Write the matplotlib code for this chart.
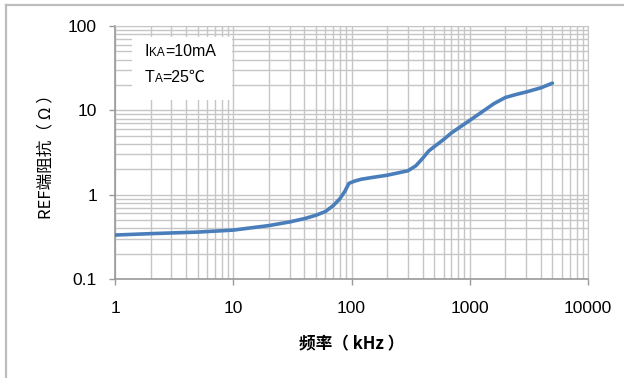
import matplotlib
matplotlib.use('Agg')
import matplotlib.pyplot as plt
from matplotlib.lines import Line2D
from matplotlib.patches import Rectangle
from matplotlib.offsetbox import TextArea, HPacker, VPacker, AnnotationBbox

# 频率 (kHz) / REF端阻抗 (Ω)
freq = [1, 2, 5, 10, 20, 30, 40, 50, 60, 70, 80, 88, 95, 105, 120, 150, 200,
        300, 350, 400, 450, 500, 600, 700, 1000, 1300, 1600, 2000, 2500, 3000,
        4000, 5000]
impedance = [0.332, 0.345, 0.36, 0.38, 0.43, 0.475, 0.52, 0.57, 0.63, 0.74,
             0.9, 1.1, 1.36, 1.44, 1.52, 1.6, 1.7, 1.92, 2.2, 2.7, 3.3, 3.7,
             4.5, 5.4, 7.6, 9.8, 12.0, 14.2, 15.5, 16.5, 18.5, 21.0]

x_ticks = [1, 10, 100, 1000, 10000]
x_tick_labels = ['1', '10', '100', '1000', '10000']
y_ticks = [0.1, 1, 10, 100]
y_tick_labels = ['0.1', '1', '10', '100']

LATIN = ['Liberation Sans', 'Noto Sans CJK SC', 'DejaVu Sans']
CJK = ['Noto Sans CJK SC', 'DejaVu Sans']
GRID = '#c6c6c6'

fig = plt.figure(figsize=(6.24, 3.78), dpi=100)
ax = fig.add_axes([115 / 624, 1 - 279 / 378, 473 / 624, 253 / 378])

ax.plot(freq, impedance, color='#4a7ebb', lw=2.6, solid_capstyle='round',
        solid_joinstyle='round', zorder=3)

ax.set_xscale('log')
ax.set_yscale('log')
ax.set_xlim(1, 10000)
ax.set_ylim(0.1, 100)

ax.grid(which='major', color=GRID, lw=1.0)
ax.grid(which='minor', color=GRID, lw=1.0)
ax.set_axisbelow(True)

ax.set_xticks(x_ticks)
ax.set_xticklabels(x_tick_labels, family=LATIN, fontsize=12.5)
ax.set_yticks(y_ticks)
ax.set_yticklabels(y_tick_labels, family=LATIN, fontsize=12.5)
ax.tick_params(which='major', direction='out', length=4, width=1, color='#999999')
ax.tick_params(axis='x', which='major', pad=12)
ax.tick_params(axis='y', which='major', pad=9)
ax.tick_params(which='minor', length=0)

for side in ['top', 'right']:
    ax.spines[side].set_color(GRID)
for side in ['left', 'bottom']:
    ax.spines[side].set_color('#999999')
    ax.spines[side].set_linewidth(1.2)

ax.set_xlabel('频率（ kHz ）', family=CJK, fontsize=12, fontweight='bold', labelpad=14)
ax.set_ylabel('REF端阻抗（ Ω ）', family=CJK, fontsize=12, fontweight='medium', labelpad=10)

# 参数说明框
fig.add_artist(Rectangle((132 / 624, 1 - 100 / 378), 100 / 624, 63 / 378,
                         transform=fig.transFigure, facecolor='white',
                         edgecolor='none', zorder=4))
row1 = HPacker(children=[TextArea('I', textprops=dict(family=LATIN, size=11.5)),
                         TextArea('KA', textprops=dict(family=LATIN, size=8.5)),
                         TextArea('=10mA', textprops=dict(family=LATIN, size=11.5))],
               align='baseline', pad=0, sep=0)
row2 = HPacker(children=[TextArea('T', textprops=dict(family=LATIN, size=11.5)),
                         TextArea('A', textprops=dict(family=LATIN, size=8.5)),
                         TextArea('=25℃', textprops=dict(family=LATIN, size=11.5))],
               align='baseline', pad=0, sep=0)
box = VPacker(children=[row1, row2], align='left', pad=0, sep=8)
ab = AnnotationBbox(box, (145 / 624, 1 - 44 / 378), xycoords='figure fraction',
                    box_alignment=(0, 1), frameon=False, zorder=5)
fig.add_artist(ab)

# 外框 (只有上边和左边)
fig.add_artist(Line2D([6 / 624, 1], [1 - 5 / 378, 1 - 5 / 378], transform=fig.transFigure,
                      color='#bdbdbd', lw=1.6))
fig.add_artist(Line2D([6 / 624, 6 / 624], [0, 1 - 5 / 378], transform=fig.transFigure,
                      color='#bdbdbd', lw=1.6))

fig.savefig('out.png', dpi=100)
